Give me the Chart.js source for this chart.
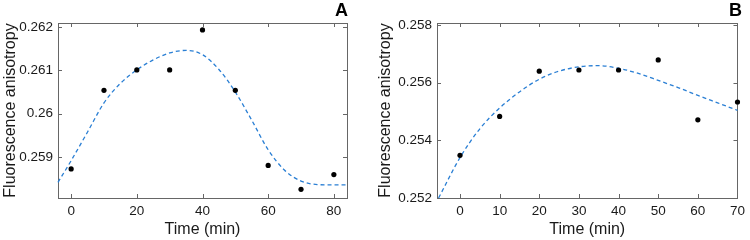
<!DOCTYPE html>
<html>
<head>
<meta charset="utf-8">
<script src="https://cdn.jsdelivr.net/npm/chart.js@4/dist/chart.umd.min.js"></script>
<style>
  html, body { margin: 0; padding: 0; background: #fff; }
  #wrap { position: relative; width: 750px; height: 240px; }
  .panel { position: absolute; top: 0; width: 375px; height: 240px; }
</style>
</head>
<body>
<div id="wrap">
  <div class="panel" style="left:0"><canvas id="chartA" width="375" height="240"></canvas></div>
  <div class="panel" style="left:375px"><canvas id="chartB" width="375" height="240"></canvas></div>
</div>
<script>
// ---- Panel A data ----
const timeA = [0, 10, 20, 30, 40, 50, 60, 70, 80];
const anisoA = [0.25873, 0.26054, 0.26101, 0.26101, 0.26193, 0.26054, 0.25881, 0.25826, 0.25860];
const fitTimeA = [-4, 0, 5, 10, 15, 20, 25, 30, 35, 40, 45, 50, 55, 60, 65, 70, 75, 80, 84];
const fitA = [0.25842, 0.25892, 0.25958, 0.26025, 0.26070, 0.26101, 0.26124, 0.26140, 0.26146, 0.26136, 0.26102, 0.26050, 0.25985, 0.25917, 0.25870, 0.25845, 0.25837, 0.25836, 0.25836];
const xTicksA = [0, 20, 40, 60, 80];
const yTicksA = [0.259, 0.26, 0.261, 0.262];
const yLabelsA = ['0.259', '0.26', '0.261', '0.262'];

// ---- Panel B data ----
const timeB = [0, 10, 20, 30, 40, 50, 60, 70];
const anisoB = [0.25348, 0.25483, 0.25640, 0.25644, 0.25644, 0.25679, 0.25471, 0.25533];
const fitTimeB = [-5.4, 0, 5, 10, 15, 20, 25, 30, 35, 40, 45, 50, 55, 60, 65, 70];
const fitB = [0.25200, 0.25340, 0.25440, 0.25512, 0.25568, 0.25612, 0.25640, 0.25655, 0.25659, 0.25650, 0.25632, 0.25608, 0.25583, 0.25556, 0.25530, 0.25504];
const xTicksB = [0, 10, 20, 30, 40, 50, 60, 70];
const yTicksB = [0.252, 0.254, 0.256, 0.258];
const yLabelsB = ['0.252', '0.254', '0.256', '0.258'];

const FONT = '"Liberation Sans", Arial, Helvetica, sans-serif';
const AXIS_COLOR = '#666666';
const TEXT_COLOR = '#1a1a1a';
const FIT_COLOR = '#2a7fd4';

const boxPlugin = {
  id: 'boxTicks',
  beforeDatasetsDraw(chart) {
    const {ctx, chartArea: a, scales} = chart;
    const tl = 4;
    ctx.save();
    ctx.strokeStyle = AXIS_COLOR;
    ctx.lineWidth = 1;
    ctx.strokeRect(Math.round(a.left) + 0.5, Math.round(a.top) + 0.5,
                   Math.round(a.right - a.left), Math.round(a.bottom - a.top));
    ctx.beginPath();
    scales.x.ticks.forEach(t => {
      const px = Math.round(scales.x.getPixelForValue(t.value)) + 0.5;
      ctx.moveTo(px, a.bottom); ctx.lineTo(px, a.bottom - tl);
      ctx.moveTo(px, a.top); ctx.lineTo(px, a.top + tl);
    });
    scales.y.ticks.forEach(t => {
      const py = Math.round(scales.y.getPixelForValue(t.value)) + 0.5;
      ctx.moveTo(a.left, py); ctx.lineTo(a.left + tl, py);
      ctx.moveTo(a.right, py); ctx.lineTo(a.right - tl, py);
    });
    ctx.stroke();
    ctx.restore();
  },
  afterDraw(chart, args, opts) {
    const {ctx} = chart;
    ctx.save();
    ctx.font = 'bold 18px ' + FONT;
    ctx.fillStyle = '#000';
    ctx.textAlign = 'right';
    ctx.textBaseline = 'alphabetic';
    ctx.fillText(opts.letter, opts.x, 16);
    ctx.restore();
  }
};

function makeChart(id, cfg) {
  return new Chart(document.getElementById(id), {
    type: 'scatter',
    data: {
      datasets: [
        {
          data: cfg.fitX.map((x, i) => ({x, y: cfg.fitY[i]})),
          showLine: true,
          borderColor: FIT_COLOR,
          borderWidth: 1.3,
          borderDash: [4, 3],
          pointRadius: 0,
          cubicInterpolationMode: 'monotone',
          clip: 1,
          order: 2
        },
        {
          data: cfg.x.map((x, i) => ({x, y: cfg.y[i]})),
          pointRadius: 2.6,
          pointBackgroundColor: '#000',
          pointBorderColor: '#000',
          pointBorderWidth: 0,
          clip: false,
          order: 1
        }
      ]
    },
    options: {
      responsive: false,
      animation: false,
      layout: { padding: { top: 23, right: cfg.padRight, left: 0, bottom: 0 } },
      plugins: {
        legend: { display: false },
        tooltip: { enabled: false },
        boxTicks: { letter: cfg.letter, x: cfg.letterX }
      },
      scales: {
        x: {
          type: 'linear',
          min: cfg.xMin, max: cfg.xMax,
          afterBuildTicks: s => { s.ticks = cfg.xTicks.map(v => ({value: v})); },
          afterFit: s => { s.height = 42; },
          grid: { display: false, drawTicks: false },
          border: { display: false },
          ticks: { padding: 5, color: TEXT_COLOR, font: { family: FONT, size: 13.5 },
                   callback: v => String(v), maxRotation: 0 },
          title: { display: true, text: 'Time (min)', color: TEXT_COLOR,
                   font: { family: FONT, size: 16 }, padding: { top: 0, bottom: 1 } }
        },
        y: {
          type: 'linear',
          min: cfg.yMin, max: cfg.yMax,
          afterBuildTicks: s => { s.ticks = cfg.yTicks.map(v => ({value: v})); },
          afterFit: s => { s.width = cfg.yWidth; },
          grid: { display: false, drawTicks: false },
          border: { display: false },
          ticks: { padding: 5, color: TEXT_COLOR, font: { family: FONT, size: 13.5 },
                   callback: (v, i) => cfg.yLabels[i] },
          title: { display: true, text: 'Fluorescence anisotropy', color: TEXT_COLOR,
                   font: { family: FONT, size: 16 }, padding: { top: 1, bottom: 0 } }
        }
      }
    },
    plugins: [boxPlugin]
  });
}

makeChart('chartA', {
  x: timeA, y: anisoA, fitX: fitTimeA, fitY: fitA,
  xMin: -4, xMax: 84, yMin: 0.25806, yMax: 0.26209,
  xTicks: xTicksA, yTicks: yTicksA, yLabels: yLabelsA,
  yWidth: 58, padRight: 28, letter: 'A', letterX: 348
});
makeChart('chartB', {
  x: timeB, y: anisoB, fitX: fitTimeB, fitY: fitB,
  xMin: -5.8, xMax: 70, yMin: 0.252, yMax: 0.25807,
  xTicks: xTicksB, yTicks: yTicksB, yLabels: yLabelsB,
  yWidth: 62, padRight: 8, letter: 'B', letterX: 367
});
</script>
</body>
</html>
